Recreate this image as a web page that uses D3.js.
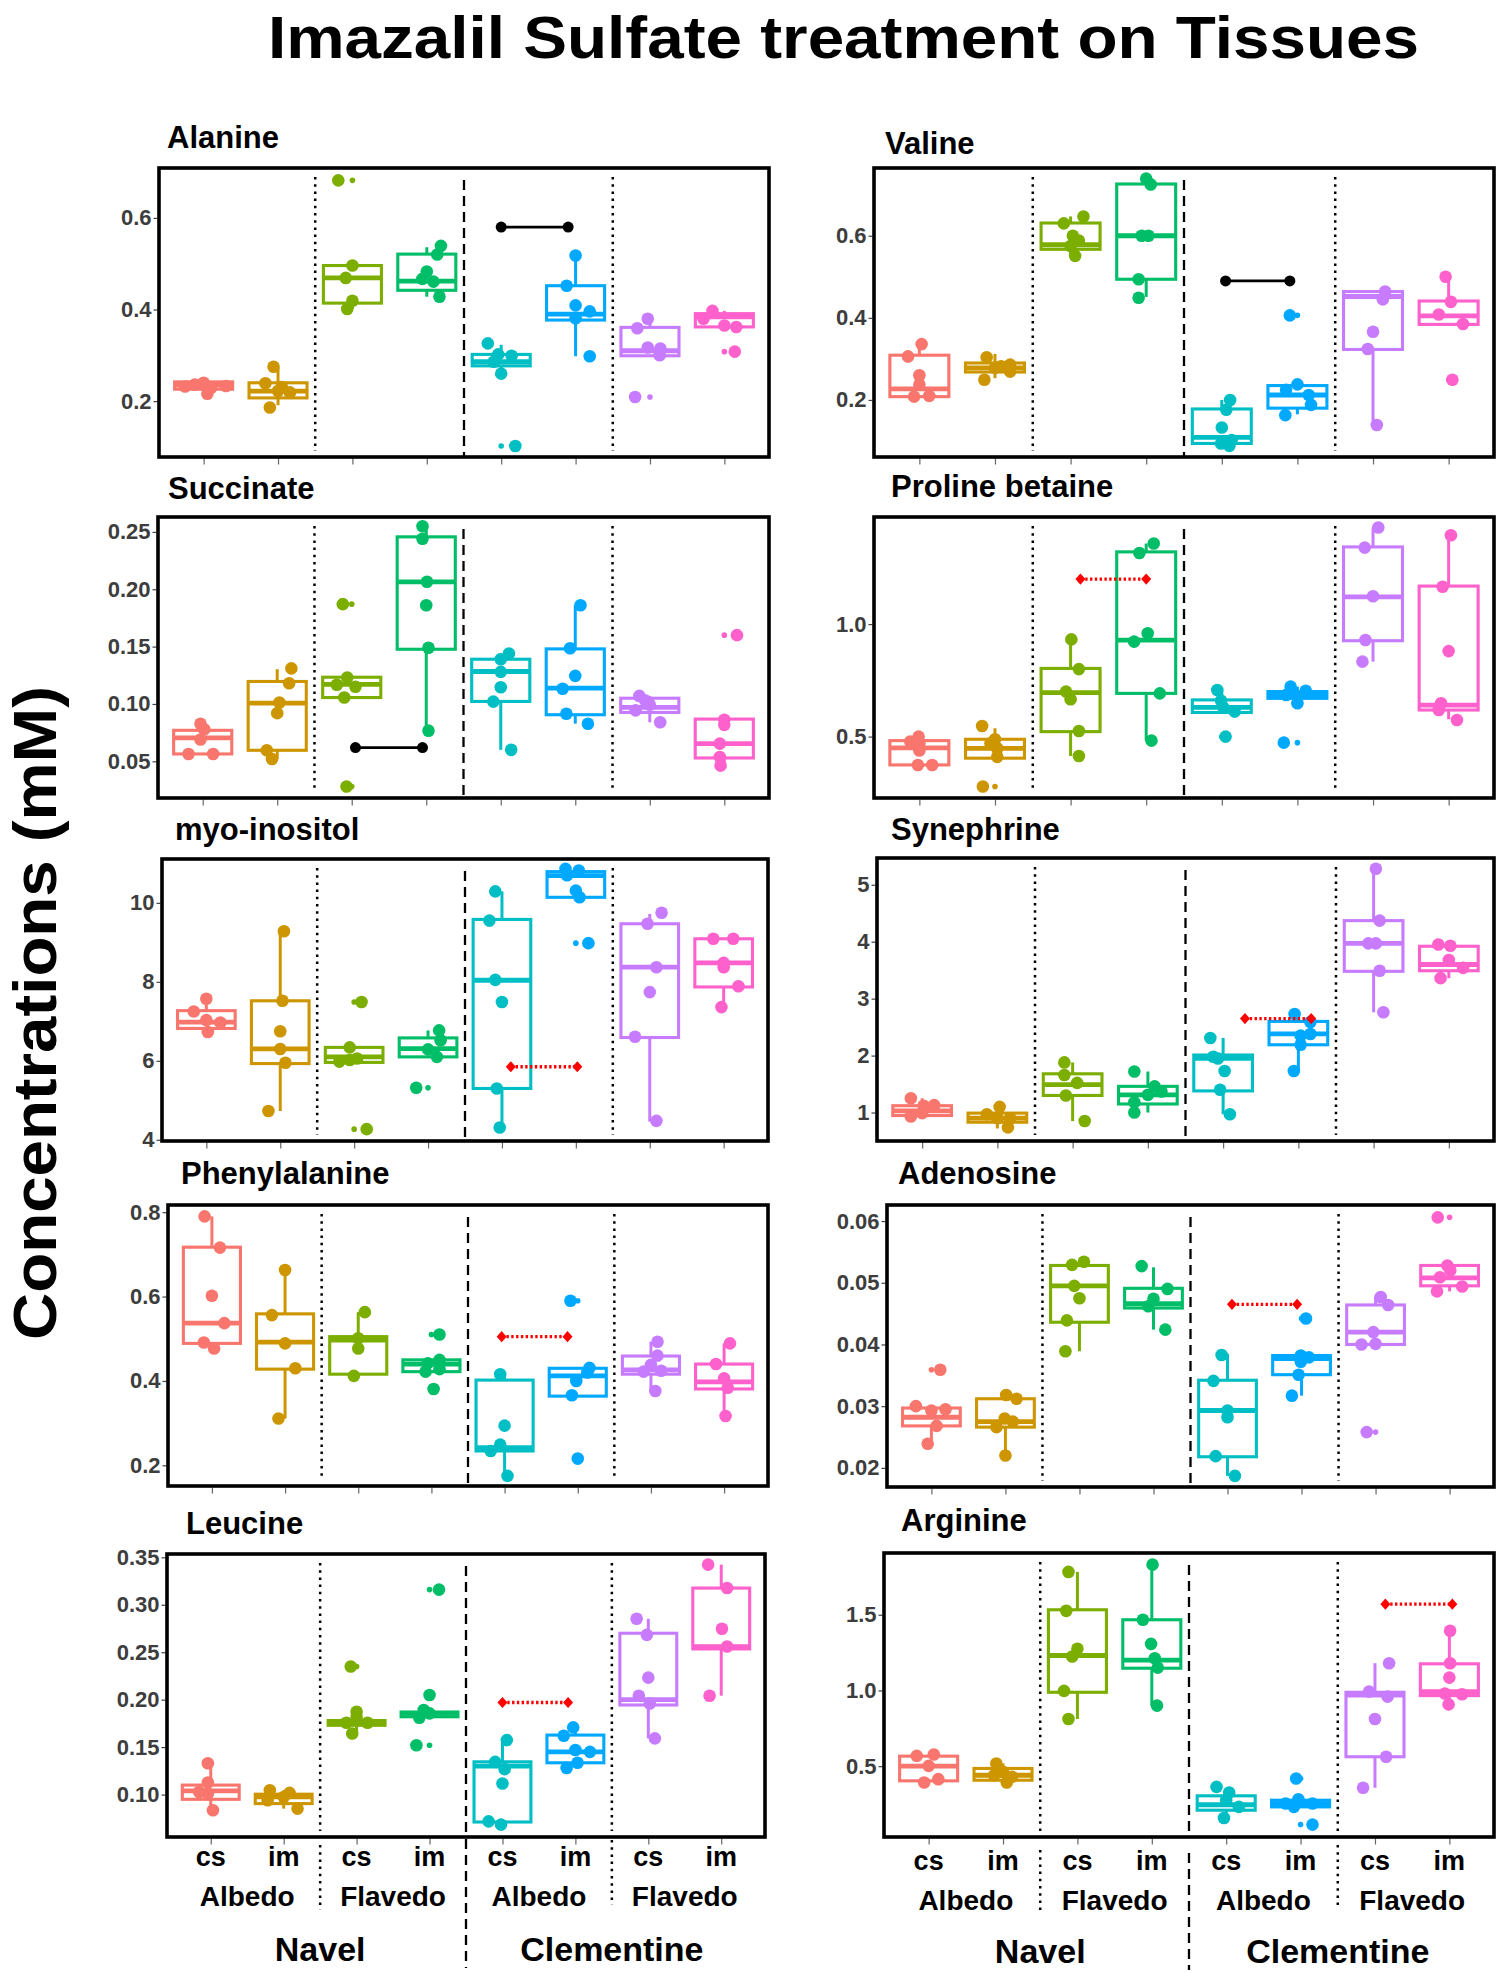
<!DOCTYPE html>
<html><head><meta charset="utf-8">
<script src="https://cdn.jsdelivr.net/npm/d3@7"></script>
<style>body{margin:0;background:#fff}</style>
</head><body>
<svg id="c" width="1496" height="1973"></svg>
<script>
const FONT = "'Liberation Sans', Arial, Helvetica, sans-serif";
const groups = ["Navel Albedo cs","Navel Albedo im","Navel Flavedo cs","Navel Flavedo im","Clementine Albedo cs","Clementine Albedo im","Clementine Flavedo cs","Clementine Flavedo im"];
const groupColors = ["#F8766D","#CD9600","#7CAE00","#00BE67","#00BFC4","#00A9FF","#C77CFF","#FF61CC"];
const treatmentLabels = ["cs","im","cs","im","cs","im","cs","im"];
const tissueLabels = ["Albedo","Flavedo","Albedo","Flavedo"];
const cultivarLabels = ["Navel","Clementine"];

// box stats per group: [lower whisker, q1, median, q3, upper whisker]
// points per group: [jitter offset (category units), value]
const alanineBox = [[0.226,0.226,0.235,0.242,0.242],[0.191,0.207,0.222,0.240,0.272],[0.401,0.414,0.469,0.496,0.496],[0.428,0.442,0.462,0.521,0.536],[0.260,0.277,0.286,0.302,0.323],[0.298,0.377,0.390,0.452,0.520],[0.299,0.299,0.310,0.361,0.380],[0.362,0.362,0.384,0.391,0.397]];
const alaninePts = [[[0,0.240],[0.05,0.216],[-0.25,0.232],[0.3,0.233],[0.1,0.229],[-0.12,0.236]],[[-0.17,0.239],[-0.06,0.275],[-0.11,0.186],[0,0.222],[0.16,0.219],[0.05,0.231]],[[0,0.496],[-0.09,0.469],[0,0.419],[-0.07,0.401],[-0.19,0.682]],[[0.19,0.539],[0.14,0.52],[0,0.483],[-0.06,0.467],[0.17,0.428],[0.09,0.461]],[[-0.18,0.326],[-0.04,0.302],[0.14,0.299],[0,0.26],[-0.1,0.286],[0.19,0.102]],[[0,0.518],[-0.12,0.452],[0,0.409],[0.19,0.396],[0,0.381],[0.19,0.298]],[[-0.17,0.359],[-0.03,0.38],[-0.03,0.317],[0.14,0.315],[0.13,0.3],[-0.2,0.209]],[[-0.16,0.397],[0,0.365],[0.16,0.362],[-0.28,0.38],[0.14,0.308]]];
const alanineOut = [[],[],[0.682],[],[0.102],[],[0.209],[0.308]];
const alanineSig = [[5.0,5.9,0.58,"solid"]];
const alanineDomain = [0.078,0.709];
const alanineTicks = [0.2,0.4,0.6];

const valineBox = [[0.208,0.208,0.227,0.309,0.335],[0.253,0.268,0.278,0.290,0.312],[0.551,0.567,0.578,0.631,0.647],[0.451,0.494,0.600,0.726,0.739],[0.09,0.094,0.109,0.178,0.200],[0.165,0.180,0.212,0.235,0.238],[0.139,0.323,0.452,0.464,0.464],[0.384,0.384,0.405,0.441,0.500]];
const valinePts = [[[0.03,0.336],[-0.15,0.306],[0,0.26],[-0.07,0.208],[0.13,0.21],[0,0.237]],[[-0.11,0.304],[-0.14,0.249],[0.2,0.286],[0.2,0.269],[0,0.278],[0.08,0.282]],[[-0.09,0.63],[0.17,0.647],[0.03,0.6],[0.11,0.588],[0,0.575],[0.06,0.551]],[[0,0.739],[0.06,0.725],[-0.06,0.6],[0.03,0.6],[-0.1,0.494],[-0.1,0.449]],[[0.11,0.2],[0.06,0.176],[0,0.133],[-0.01,0.094],[0.13,0.102],[0.1,0.088]],[[0,0.238],[-0.15,0.225],[0.15,0.212],[0.18,0.188],[-0.16,0.163],[-0.1,0.406]],[[0.16,0.464],[0.13,0.445],[0,0.366],[-0.07,0.324],[0.05,0.139]],[[-0.04,0.5],[0.03,0.439],[-0.13,0.408],[0.19,0.385],[0.05,0.249]]];
const valineOut = [[],[],[],[],[],[0.406],[],[0.249]];
const valineSig = [[5.05,5.9,0.49,"solid"]];
const valineDomain = [0.061,0.765];
const valineTicks = [0.2,0.4,0.6];

const succinateBox = [[0.056,0.0564,0.0705,0.077,0.083],[0.052,0.0596,0.1007,0.1196,0.1303],[0.1056,0.1056,0.117,0.1233,0.1233],[0.0767,0.1477,0.2065,0.2457,0.256],[0.060,0.1022,0.1283,0.139,0.144],[0.0828,0.0906,0.1138,0.148,0.186],[0.084,0.0926,0.097,0.105,0.107],[0.0462,0.0529,0.0654,0.0868,0.0868]];
const succinatePts = [[[-0.03,0.0828],[0.02,0.078],[-0.19,0.0564],[0.14,0.0564],[-0.03,0.069]],[[0.19,0.131],[0.16,0.118],[0.03,0.1013],[0,0.092],[-0.14,0.0596],[-0.07,0.052]],[[-0.06,0.123],[-0.2,0.1167],[-0.1,0.1056],[0.05,0.115],[-0.12,0.187],[-0.07,0.028]],[[-0.05,0.255],[-0.05,0.244],[0.01,0.2065],[0,0.186],[0.03,0.149],[0.03,0.0767]],[[0.11,0.144],[0,0.139],[0,0.128],[0,0.1146],[-0.1,0.102],[0.14,0.060]],[[0.07,0.186],[-0.07,0.1485],[0,0.1245],[-0.17,0.1132],[-0.12,0.0914],[0.17,0.0828]],[[-0.14,0.107],[0,0.0993],[-0.19,0.0944],[0.14,0.084],[-0.06,0.103]],[[0,0.0862],[0,0.0818],[-0.06,0.0654],[-0.06,0.0538],[-0.05,0.0462],[0.17,0.16]]];
const succinateOut = [[],[],[0.187,0.028],[],[],[],[],[0.16]];
const succinateSig = [[3.05,3.95,0.062,"solid"]];
const succinateDomain = [0.018,0.263];
const succinateTicks = [0.05,0.10,0.15,0.20,0.25];

const prolineBox = [[0.374,0.374,0.45,0.482,0.5],[0.404,0.404,0.448,0.488,0.537],[0.414,0.522,0.695,0.803,0.932],[0.482,0.692,0.929,1.321,1.358],[0.607,0.607,0.63,0.663,0.707],[0.648,0.67,0.685,0.70,0.722],[0.833,0.926,1.121,1.343,1.429],[0.577,0.618,0.64,1.169,1.395]];
const prolinePts = [[[-0.01,0.5],[0,0.47],[0,0.438],[-0.02,0.374],[0.17,0.374],[-0.12,0.478]],[[-0.17,0.547],[0,0.488],[0.03,0.448],[0.03,0.41],[-0.16,0.278],[-0.06,0.47]],[[0.01,0.932],[0.11,0.8],[-0.06,0.7],[0,0.666],[0.11,0.525],[0.11,0.414]],[[0.1,1.358],[-0.09,1.316],[0.02,0.959],[-0.16,0.922],[0.18,0.692],[0.07,0.482]],[[-0.06,0.707],[-0.01,0.66],[0.02,0.63],[0.17,0.611],[0.05,0.5]],[[-0.09,0.722],[0.11,0.704],[0,0.648],[-0.15,0.685],[-0.18,0.473]],[[0.07,1.429],[-0.11,1.34],[0,1.124],[-0.1,0.929],[-0.14,0.833]],[[0.03,1.395],[-0.08,1.166],[0,0.88],[-0.1,0.648],[-0.13,0.618],[0.11,0.574]]];
const prolineOut = [[],[0.278],[],[],[0.5],[0.473],[],[]];
const prolineSig = [[3.13,4.0,1.2,"dotted"]];
const prolineDomain = [0.227,1.476];
const prolineTicks = [0.5,1.0];

const myoBox = [[6.73,6.82,6.98,7.27,7.57],[4.73,5.93,6.30,7.52,9.28],[5.96,5.96,6.1,6.34,6.34],[6.1,6.1,6.31,6.58,6.77],[4.31,5.30,8.04,9.58,10.29],[10.14,10.14,10.69,10.79,10.86],[4.46,6.59,8.37,9.47,9.72],[7.38,7.87,8.48,9.09,9.09]];
const myoPts = [[[0,7.57],[-0.17,7.25],[0,7.03],[0.02,6.73],[0.19,6.97]],[[0.05,9.28],[0.03,7.52],[0,6.75],[0,6.3],[0.07,5.95],[-0.16,4.73]],[[-0.06,6.34],[-0.06,6.02],[0.04,6.06],[-0.2,5.98],[0.1,7.49],[0.17,4.27]],[[0.15,6.77],[0.17,6.52],[0,6.29],[0.12,6.1],[-0.16,5.32]],[[-0.09,10.29],[-0.17,9.55],[-0.09,8.05],[0,7.49],[-0.07,5.3],[-0.03,4.31]],[[-0.14,10.86],[0.04,10.82],[0,10.31],[0.05,10.14],[-0.12,10.7],[0.17,8.98]],[[0.16,9.75],[-0.03,9.47],[0.09,8.37],[0,7.74],[-0.2,6.61],[0.09,4.48]],[[-0.14,9.09],[0.13,9.09],[0,8.48],[0,8.37],[0.2,7.89],[-0.03,7.36]]];
const myoOut = [[],[],[7.49,4.27],[5.32],[],[8.98],[],[]];
const myoSig = [[5.12,6.02,5.85,"dotted"]];
const myoDomain = [3.97,11.11];
const myoTicks = [4,6,8,10];

const synBox = [[0.93,0.947,1.03,1.12,1.25],[0.72,0.83,0.90,0.99,1.15],[0.85,1.30,1.49,1.68,1.88],[1.0,1.15,1.31,1.46,1.72],[0.97,1.38,1.95,2.01,2.31],[1.73,2.19,2.38,2.60,2.75],[2.76,3.48,3.97,4.37,5.28],[3.36,3.49,3.60,3.92,3.95]];
const synPts = [[[-0.15,1.25],[0,0.99],[0.16,1.13],[-0.15,0.93],[0.02,1.12]],[[0.03,1.1],[-0.14,0.97],[0.14,0.74],[0,0.9],[0.17,0.9]],[[-0.11,1.88],[-0.11,1.66],[0.06,1.52],[-0.09,1.3],[0.16,0.85]],[[-0.18,1.72],[0.09,1.46],[0,1.31],[0.18,1.37],[-0.18,1.18],[-0.18,1.0]],[[-0.17,2.31],[-0.13,1.98],[-0.07,1.95],[0.02,1.73],[-0.04,1.4],[0.09,0.97]],[[-0.05,2.73],[0.16,2.59],[0.03,2.35],[0.16,2.38],[0.03,2.19],[-0.06,1.73]],[[0.03,5.28],[0.08,4.37],[-0.07,3.97],[0.03,3.97],[0.08,3.49],[0.13,2.76]],[[-0.14,3.95],[0.02,3.93],[0,3.68],[0.19,3.54],[-0.11,3.36]]];
const synOut = [[],[],[],[],[],[],[],[]];
const synSig = [[5.29,6.17,2.65,"dotted"]];
const synDomain = [0.50,5.47];
const synTicks = [1,2,3,4,5];

const pheBox = [[0.477,0.489,0.537,0.717,0.79],[0.311,0.428,0.492,0.559,0.663],[0.412,0.416,0.497,0.505,0.563],[0.422,0.422,0.44,0.45,0.45],[0.175,0.234,0.242,0.402,0.418],[0.364,0.364,0.412,0.43,0.431],[0.376,0.416,0.426,0.459,0.493],[0.317,0.381,0.398,0.44,0.489]];
const phePts = [[[-0.1,0.79],[0.11,0.716],[0,0.602],[0.17,0.537],[-0.11,0.491],[0.03,0.477]],[[0,0.663],[-0.18,0.556],[0,0.489],[0.14,0.43],[-0.09,0.311]],[[0.09,0.563],[0,0.501],[0,0.477],[-0.06,0.412]],[[0.11,0.45],[-0.08,0.422],[0.11,0.428],[-0.05,0.442],[0.11,0.51],[0.03,0.381]],[[-0.06,0.416],[0,0.294],[-0.06,0.249],[-0.19,0.234],[0.04,0.175]],[[0.16,0.431],[-0.02,0.4],[-0.08,0.366],[0.13,0.42],[-0.1,0.59],[0,0.216]],[[0.09,0.493],[0.09,0.46],[0,0.438],[-0.1,0.422],[0.14,0.424],[0.06,0.376]],[[0.08,0.489],[-0.11,0.44],[0,0.406],[0.05,0.384],[0.02,0.317]]];
const pheOut = [[],[],[],[0.51,0.381],[],[0.59,0.216],[],[]];
const pheSig = [[4.96,5.86,0.505,"dotted"]];
const pheDomain = [0.151,0.817];
const pheTicks = [0.2,0.4,0.6,0.8];

const adenBox = [[0.0239,0.0268,0.0282,0.0297,0.030],[0.022,0.0266,0.0275,0.0312,0.0318],[0.0389,0.0436,0.0495,0.0528,0.0534],[0.0424,0.0459,0.0466,0.0491,0.0525],[0.0187,0.0218,0.0293,0.0342,0.0385],[0.0317,0.0351,0.0377,0.0382,0.0382],[0.040,0.040,0.042,0.0464,0.0478],[0.0486,0.0495,0.0508,0.0528,0.0528]];
const adenPts = [[[-0.21,0.03],[0,0.0293],[0.19,0.0295],[0.07,0.0268],[-0.05,0.0239],[0.12,0.0359]],[[0.01,0.0318],[0.15,0.0312],[-0.01,0.028],[-0.12,0.0266],[0.1,0.0275],[0,0.022]],[[-0.1,0.0529],[0.06,0.0534],[-0.07,0.0495],[0,0.0475],[-0.17,0.0439],[-0.19,0.0389]],[[-0.16,0.0527],[0.19,0.049],[0,0.0474],[-0.07,0.0462],[0.16,0.0424]],[[-0.08,0.0383],[-0.19,0.0341],[0,0.0293],[0,0.0282],[-0.16,0.0219],[0.1,0.0187]],[[-0.01,0.0382],[0.1,0.0379],[-0.01,0.0372],[-0.04,0.0351],[-0.13,0.0317],[0.06,0.0442]],[[0.07,0.0477],[0.17,0.0464],[-0.03,0.042],[-0.19,0.04],[0,0.0401],[-0.12,0.0258]],[[-0.03,0.0528],[-0.13,0.0509],[0.17,0.0494],[-0.17,0.0486],[0.01,0.052],[-0.16,0.0606]]];
const adenOut = [[0.0359],[],[],[],[],[0.0442],[0.0258],[0.0606]];
const adenSig = [[5.06,5.94,0.0465,"dotted"]];
const adenDomain = [0.0169,0.0626];
const adenTicks = [0.02,0.03,0.04,0.05,0.06];

const leuBox = [[0.0835,0.095,0.104,0.11,0.133],[0.0852,0.0905,0.0975,0.1004,0.1046],[0.1644,0.173,0.1757,0.178,0.1873],[0.181,0.182,0.1856,0.187,0.1891],[0.0683,0.0711,0.130,0.1345,0.1574],[0.128,0.1335,0.145,0.1627,0.1708],[0.1592,0.1944,0.20,0.27,0.2852],[0.2042,0.2535,0.256,0.3176,0.3423]];
const leuPts = [[[-0.04,0.133],[-0.04,0.1127],[-0.16,0.1028],[-0.04,0.101],[0.03,0.0835]],[[-0.19,0.1046],[0.08,0.1018],[0,0.0975],[0.19,0.0852],[-0.22,0.094]],[[0,0.1873],[0,0.182],[-0.14,0.1757],[-0.06,0.1644],[-0.08,0.235],[0.15,0.1757]],[[-0.08,0.1891],[-0.14,0.181],[0,0.1856],[0,0.205],[0.13,0.316],[-0.18,0.152]],[[0.06,0.1574],[-0.1,0.1345],[0.03,0.1268],[0,0.1116],[-0.19,0.0718],[-0.02,0.0683]],[[-0.03,0.1708],[-0.16,0.162],[0,0.147],[0.2,0.145],[0.03,0.1335],[-0.12,0.128]],[[-0.16,0.2852],[-0.02,0.2683],[0,0.2232],[-0.13,0.2042],[0.02,0.196],[0.09,0.1592]],[[-0.18,0.3423],[0.08,0.3176],[0.01,0.2747],[0.08,0.256],[-0.16,0.2042]]];
const leuOut = [[],[],[0.235],[0.316,0.205,0.152],[],[],[],[]];
const leuSig = [[5.0,5.9,0.197,"dotted"]];
const leuDomain = [0.0553,0.3535];
const leuTicks = [0.10,0.15,0.20,0.25,0.30,0.35];

const argBox = [[0.392,0.403,0.50,0.566,0.577],[0.392,0.407,0.44,0.485,0.518],[0.811,0.988,1.231,1.533,1.783],[0.9,1.147,1.20,1.467,1.831],[0.158,0.209,0.245,0.304,0.341],[0.231,0.231,0.253,0.275,0.281],[0.357,0.562,0.97,0.988,1.18],[0.908,0.966,0.992,1.176,1.394]];
const argPts = [[[-0.16,0.568],[0.07,0.577],[0,0.502],[0.13,0.414],[-0.06,0.392]],[[-0.09,0.518],[0,0.462],[0.05,0.392],[0.12,0.43],[-0.12,0.44]],[[-0.12,1.783],[-0.15,1.526],[0,1.275],[-0.07,1.224],[-0.18,0.997],[-0.12,0.811]],[[0.01,1.831],[-0.12,1.467],[-0.01,1.308],[0.04,1.213],[0.08,1.151],[0.07,0.9]],[[-0.13,0.363],[0.04,0.326],[0,0.275],[0.17,0.231],[-0.03,0.158]],[[-0.03,0.281],[0.16,0.253],[-0.2,0.253],[-0.09,0.231],[-0.06,0.418],[0.16,0.114]],[[0.19,1.18],[-0.08,0.992],[0.17,0.959],[0,0.811],[0.15,0.562],[-0.16,0.357]],[[0.01,1.394],[0.01,1.18],[0,1.085],[0.17,0.975],[-0.01,0.908],[-0.06,0.98]]];
const argOut = [[],[],[],[],[],[0.418,0.114],[],[]];
const argSig = [[7.14,8.04,1.57,"dotted"]];
const argDomain = [0.032,1.908];
const argTicks = [0.5,1.0,1.5];

// layout (pixels)
const layout = [
 {title:'Alanine', x0:159, x1:769, y0:168, y1:457, tx:167, ty:148},
 {title:'Valine', x0:874, x1:1494, y0:168, y1:457, tx:885, ty:154},
 {title:'Succinate', x0:158, x1:769, y0:517, y1:798, tx:168, ty:499},
 {title:'Proline betaine', x0:874, x1:1494, y0:517, y1:798, tx:891, ty:497},
 {title:'myo-inositol', x0:162, x1:768, y0:859, y1:1141, tx:175, ty:840},
 {title:'Synephrine', x0:877, x1:1494, y0:858, y1:1141, tx:891, ty:840},
 {title:'Phenylalanine', x0:168, x1:768, y0:1205, y1:1486, tx:181, ty:1184},
 {title:'Adenosine', x0:887, x1:1494, y0:1205, y1:1487, tx:898, ty:1184},
 {title:'Leucine', x0:167, x1:765, y0:1554, y1:1837, tx:186, ty:1534},
 {title:'Arginine', x0:884, x1:1494, y0:1553, y1:1837, tx:901, ty:1531}
];

const panels = [
 {L:layout[0], box:alanineBox, pts:alaninePts, out:alanineOut, sig:alanineSig, dom:alanineDomain, ticks:alanineTicks, fmt:'.1f'},
 {L:layout[1], box:valineBox, pts:valinePts, out:valineOut, sig:valineSig, dom:valineDomain, ticks:valineTicks, fmt:'.1f'},
 {L:layout[2], box:succinateBox, pts:succinatePts, out:succinateOut, sig:succinateSig, dom:succinateDomain, ticks:succinateTicks, fmt:'.2f'},
 {L:layout[3], box:prolineBox, pts:prolinePts, out:prolineOut, sig:prolineSig, dom:prolineDomain, ticks:prolineTicks, fmt:'.1f'},
 {L:layout[4], box:myoBox, pts:myoPts, out:myoOut, sig:myoSig, dom:myoDomain, ticks:myoTicks, fmt:'d'},
 {L:layout[5], box:synBox, pts:synPts, out:synOut, sig:synSig, dom:synDomain, ticks:synTicks, fmt:'d'},
 {L:layout[6], box:pheBox, pts:phePts, out:pheOut, sig:pheSig, dom:pheDomain, ticks:pheTicks, fmt:'.1f'},
 {L:layout[7], box:adenBox, pts:adenPts, out:adenOut, sig:adenSig, dom:adenDomain, ticks:adenTicks, fmt:'.2f'},
 {L:layout[8], box:leuBox, pts:leuPts, out:leuOut, sig:leuSig, dom:leuDomain, ticks:leuTicks, fmt:'.2f'},
 {L:layout[9], box:argBox, pts:argPts, out:argOut, sig:argSig, dom:argDomain, ticks:argTicks, fmt:'.1f'}
];

const svg = d3.select('#c');
svg.append('rect').attr('width',1496).attr('height',1973).attr('fill','#fff');

svg.append('text').text('Imazalil Sulfate treatment on Tissues')
  .attr('x',268).attr('y',58).attr('font-family',FONT).attr('font-weight','bold')
  .attr('font-size',60).attr('textLength',1151).attr('lengthAdjust','spacingAndGlyphs').attr('fill','#000');

svg.append('text').text('Concentrations (mM)')
  .attr('transform','translate(56,1013) rotate(-90)').attr('text-anchor','middle')
  .attr('font-family',FONT).attr('font-weight','bold').attr('font-size',62)
  .attr('textLength',654).attr('lengthAdjust','spacingAndGlyphs').attr('fill','#000');

function scalesFor(L, dom){
  const x = d3.scaleLinear().domain([0.4, 8.6]).range([L.x0, L.x1]);
  const y = d3.scaleLinear().domain(dom).range([L.y1, L.y0]);
  return {x, y};
}

function diamond(cx, cy, w, h){
  return `M${cx},${cy-h}L${cx+w},${cy}L${cx},${cy+h}L${cx-w},${cy}Z`;
}

panels.forEach(P => {
  const L = P.L;
  const {x, y} = scalesFor(L, P.dom);
  const g = svg.append('g');
  const bw = (x(2) - x(1)) * 0.78;

  g.append('text').text(L.title).attr('x', L.tx).attr('y', L.ty)
    .attr('font-family', FONT).attr('font-weight','bold').attr('font-size', 31).attr('fill','#000');

  const ya = g.append('g').attr('transform', `translate(${L.x0 - 1.5},0)`)
    .call(d3.axisLeft(y).tickValues(P.ticks).tickFormat(d3.format(P.fmt)).tickSize(4).tickPadding(2));
  ya.select('.domain').remove();
  ya.selectAll('line').attr('stroke','#444').attr('stroke-width',1.2);
  ya.selectAll('text').attr('font-family',FONT).attr('font-weight','bold').attr('font-size',22).attr('fill','#3d3d3d');

  const xa = g.append('g').attr('transform', `translate(0,${L.y1 + 1.5})`)
    .call(d3.axisBottom(x).tickValues(d3.range(1,9)).tickFormat('').tickSize(6));
  xa.select('.domain').remove();
  xa.selectAll('line').attr('stroke','#666').attr('stroke-width',1.2);

  // separators
  [2.5, 6.5].forEach(s => {
    g.append('line').attr('x1', x(s)).attr('x2', x(s)).attr('y1', L.y0 + 9).attr('y2', L.y1 - 6)
      .attr('stroke','#000').attr('stroke-width',2.5).attr('stroke-dasharray','2.5,4.7');
  });
  g.append('line').attr('x1', x(4.5)).attr('x2', x(4.5)).attr('y1', L.y0 + 12).attr('y2', L.y1)
    .attr('stroke','#000').attr('stroke-width',2.3).attr('stroke-dasharray','10,6');

  // boxes
  P.box.forEach((b, i) => {
    const c = groupColors[i];
    const cx = x(i + 1);
    const [lo, q1, md, q3, hi] = b;
    if (hi > q3) g.append('line').attr('x1',cx).attr('x2',cx).attr('y1',y(q3)).attr('y2',y(hi)).attr('stroke',c).attr('stroke-width',3);
    if (lo < q1) g.append('line').attr('x1',cx).attr('x2',cx).attr('y1',y(q1)).attr('y2',y(lo)).attr('stroke',c).attr('stroke-width',3);
    g.append('rect').attr('x', cx - bw/2).attr('y', y(q3)).attr('width', bw).attr('height', Math.max(0.5, y(q1) - y(q3)))
      .attr('fill','#fff').attr('stroke', c).attr('stroke-width', 3.1);
    g.append('line').attr('x1', cx - bw/2).attr('x2', cx + bw/2).attr('y1', y(md)).attr('y2', y(md))
      .attr('stroke', c).attr('stroke-width', 4.8);
  });

  // outliers (boxplot)
  P.out.forEach((arr, i) => {
    arr.forEach(v => {
      g.append('circle').attr('cx', x(i + 1)).attr('cy', y(v)).attr('r', 2.8).attr('fill', groupColors[i]);
    });
  });

  // jittered points
  P.pts.forEach((arr, i) => {
    arr.forEach(([dx, v]) => {
      g.append('circle').attr('cx', x(i + 1 + dx)).attr('cy', y(v)).attr('r', 6.3).attr('fill', groupColors[i]);
    });
  });

  // significance
  P.sig.forEach(([a, b2, v, type]) => {
    if (type === 'solid') {
      g.append('line').attr('x1', x(a)).attr('x2', x(b2)).attr('y1', y(v)).attr('y2', y(v)).attr('stroke','#000').attr('stroke-width',2.8);
      [a, b2].forEach(t => g.append('circle').attr('cx', x(t)).attr('cy', y(v)).attr('r', 5.5).attr('fill','#000'));
    } else {
      g.append('line').attr('x1', x(a)).attr('x2', x(b2)).attr('y1', y(v)).attr('y2', y(v)).attr('stroke','#FF0000')
        .attr('stroke-width',3.4).attr('stroke-dasharray','2.4,2.4');
      [a, b2].forEach(t => g.append('path').attr('d', diamond(x(t), y(v), 5, 5.6)).attr('fill','#FF0000'));
    }
  });

  // frame
  g.append('rect').attr('x', L.x0).attr('y', L.y0).attr('width', L.x1 - L.x0).attr('height', L.y1 - L.y0)
    .attr('fill','none').attr('stroke','#000').attr('stroke-width',3.6);
});

// bottom category labels
function drawLabels(L, dom, rows, seps){
  const {x} = scalesFor(L, dom);
  const g = svg.append('g').attr('font-family', FONT).attr('font-weight','bold').attr('fill','#000').attr('text-anchor','middle');
  treatmentLabels.forEach((t, i) => g.append('text').text(t).attr('x', x(i + 1)).attr('y', rows[0]).attr('font-size', 27));
  tissueLabels.forEach((t, k) => g.append('text').text(t).attr('x', (x(2*k + 1) + x(2*k + 2)) / 2).attr('y', rows[1]).attr('font-size', 28));
  cultivarLabels.forEach((t, k) => g.append('text').text(t).attr('x', (x(4*k + 1) + x(4*k + 4)) / 2).attr('y', rows[2]).attr('font-size', 34));
  g.append('line').attr('x1', x(2.5)).attr('x2', x(2.5)).attr('y1', seps[0][0]).attr('y2', seps[0][1])
    .attr('stroke','#000').attr('stroke-width',2.5).attr('stroke-dasharray','2.5,4.7');
  g.append('line').attr('x1', x(6.5)).attr('x2', x(6.5)).attr('y1', seps[2][0]).attr('y2', seps[2][1])
    .attr('stroke','#000').attr('stroke-width',2.5).attr('stroke-dasharray','2.5,4.7');
  g.append('line').attr('x1', x(4.5)).attr('x2', x(4.5)).attr('y1', seps[1][0]).attr('y2', seps[1][1])
    .attr('stroke','#000').attr('stroke-width',2.3).attr('stroke-dasharray','10,6');
}
drawLabels(layout[8], leuDomain, [1866, 1906, 1961], [[1845,1910],[1839,1968],[1840,1905]]);
drawLabels(layout[9], argDomain, [1870, 1910, 1963], [[1850,1913],[1853,1970],[1845,1908]]);
</script>
</body></html>
